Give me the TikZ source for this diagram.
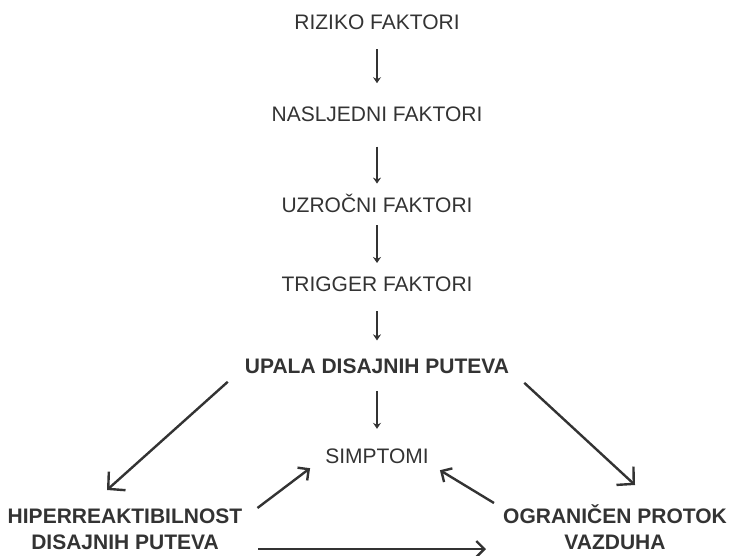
\documentclass[tikz,border=0pt]{standalone}
\usepackage{fontspec}
\setmainfont{Liberation Sans}
\usetikzlibrary{arrows.meta,positioning}
\definecolor{ink}{RGB}{51,51,51}

\begin{document}
\begin{tikzpicture}[x=1pt, y=-1pt, color=ink, line width=2.4pt,
    factor/.style={inner sep=0pt, text height=15pt, text depth=0pt, font=\fontsize{21}{27}\selectfont},
    outcome/.style={inner sep=0pt, align=center, anchor=south, font=\fontsize{21}{26}\selectfont\bfseries},
    down/.style={-{Stealth[length=6pt,width=8pt]}},
    big/.style={-{Straight Barb[length=12pt,width=25pt]}},
    small/.style={-{Straight Barb[length=8pt,width=16pt]}}]
                \useasboundingbox (0,0) rectangle (730,556);
                \node[factor]         (1) at (377,22.5)            {RIZIKO FAKTORI};
                \node[factor]         (2) [below=74.5pt of 1]      {NASLJEDNI FAKTORI};
                \node[factor]         (3) [below=73pt of 2]        {UZROČNI FAKTORI};
                \node[factor]         (4) [below=62pt of 3]        {TRIGGER FAKTORI};
                \node[factor, font=\fontsize{21}{27}\selectfont\bfseries]
                                      (5) [below=64pt of 4]        {UPALA DISAJNIH PUTEVA};
                \node[factor]         (6) [below=73pt of 5]        {SIMPTOMI};
                \node[outcome]        (7) at (125,551)             {HIPERREAKTIBILNOST\\DISAJNIH PUTEVA};
                \node[outcome]        (8) at (615,551)             {OGRANIČEN PROTOK\\VAZDUHA};

                \path
                (1) edge[down, shorten <=18pt, shorten >=22.5pt] (2)
                (2) edge[down, shorten <=23.5pt, shorten >=12.5pt] (3)
                (3) edge[down, shorten <=11.5pt, shorten >=12.5pt] (4)
                (4) edge[down, shorten <=18.5pt, shorten >=16.5pt] (5)
                (5) edge[down, shorten <=16.5pt, shorten >=18.5pt] (6);

                \draw[big] ([shift={(-16,7.5)}]5.south west) -- ([shift={(-18,-61)}]7.south);
                \draw[big] ([shift={(14,8.5)}]5.south east) -- ([shift={(20,-66)}]8.south);
                \draw[small] ([shift={(14,-43)}]7.south east) -- ([shift={(-14,3.5)}]6.south west);
                \draw[small] ([shift={(-8,-48)}]8.south west) -- ([shift={(10,5.5)}]6.south east);
                \draw[small] ([shift={(15,-2)}]7.south east) -- ([shift={(-16,-2)}]8.south west);
            \end{tikzpicture}
\end{document}
